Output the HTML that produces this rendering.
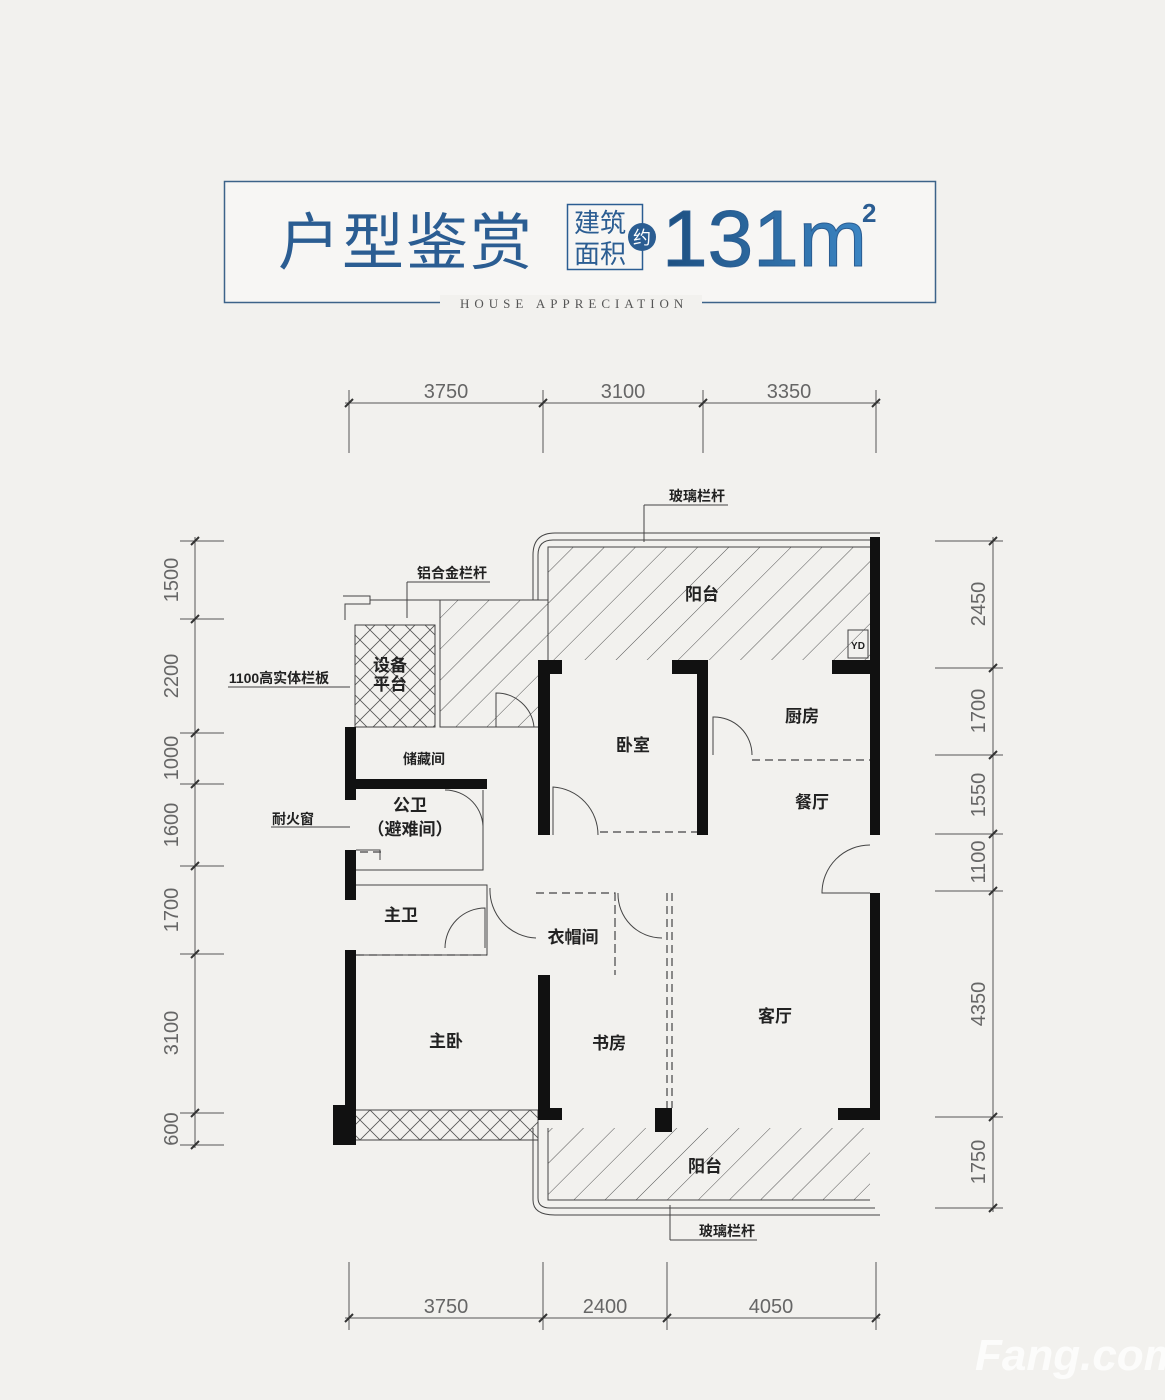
<!DOCTYPE html>
<html><head><meta charset="utf-8"><style>
html,body{margin:0;padding:0;}
body{width:1165px;height:1400px;background:#f2f1ee;overflow:hidden;}
svg{display:block}
.t{font-family:"Liberation Sans","Noto Sans CJK SC",sans-serif;fill:#222;font-weight:bold}
.d{font-family:"Liberation Sans",sans-serif;fill:#666;font-size:20px}
</style></head><body>
<svg width="1165" height="1400" viewBox="0 0 1165 1400" xmlns="http://www.w3.org/2000/svg">
<defs>
<pattern id="h" patternUnits="userSpaceOnUse" width="22" height="22" patternTransform="rotate(45)">
<line x1="0" y1="0" x2="0" y2="22" stroke="#555" stroke-width="1"/></pattern>
<pattern id="x" patternUnits="userSpaceOnUse" width="20" height="20">
<path d="M0 0L20 20M20 0L0 20" stroke="#555" stroke-width="0.8"/></pattern>
<linearGradient id="g" x1="0" x2="1"><stop offset="0" stop-color="#1d4f80"/><stop offset="1" stop-color="#3c86c4"/></linearGradient>
</defs>
<rect width="1165" height="1400" fill="#f2f1ee"/>
<!-- header -->
<rect x="224.5" y="181.5" width="711" height="121" fill="#f7f6f4" stroke="#3d6389" stroke-width="1.5"/>
<rect x="440" y="295" width="262" height="16" fill="#f2f1ee"/>
<text x="460" y="308" font-family="Liberation Serif,serif" font-size="13" letter-spacing="5" fill="#555">HOUSE APPRECIATION</text>
<text x="278" y="264" font-family="Liberation Sans,'Noto Sans CJK SC',sans-serif" font-size="62" fill="#2b5d92" letter-spacing="2">户型鉴赏</text>
<rect x="567.5" y="204.5" width="75" height="65" fill="none" stroke="#2b5d92" stroke-width="1.5"/>
<text x="574" y="232" font-family="Liberation Sans,'Noto Sans CJK SC',sans-serif" font-size="26" fill="#2b5d92">建筑</text>
<text x="574" y="263" font-family="Liberation Sans,'Noto Sans CJK SC',sans-serif" font-size="26" fill="#2b5d92">面积</text>
<circle cx="642" cy="237" r="14" fill="#2b5d92"/>
<text x="642" y="244" text-anchor="middle" font-family="'Noto Sans CJK SC',sans-serif" font-size="18" fill="#fff">约</text>
<text x="662" y="266" font-family="Liberation Sans,sans-serif" font-size="80" fill="url(#g)" textLength="205" lengthAdjust="spacingAndGlyphs" stroke="#2b5d92" stroke-width="1">131m</text>
<text x="862" y="222" font-family="Liberation Sans,sans-serif" font-size="26" font-weight="bold" fill="#2b5d92">2</text>

<!-- dims -->
<g stroke="#555" stroke-width="1" fill="none">
<line x1="345" y1="403" x2="880" y2="403"/>
<line x1="349" y1="390" x2="349" y2="453"/><line x1="543" y1="390" x2="543" y2="453"/><line x1="703" y1="390" x2="703" y2="453"/><line x1="876" y1="390" x2="876" y2="453"/>
<line x1="345" y1="1318" x2="880" y2="1318"/>
<line x1="349" y1="1262" x2="349" y2="1330"/><line x1="543" y1="1262" x2="543" y2="1330"/><line x1="667" y1="1262" x2="667" y2="1330"/><line x1="876" y1="1262" x2="876" y2="1330"/>
<line x1="195" y1="537" x2="195" y2="1148"/>
<line x1="180" y1="541" x2="224" y2="541"/><line x1="180" y1="619" x2="224" y2="619"/><line x1="180" y1="733" x2="224" y2="733"/><line x1="180" y1="784" x2="224" y2="784"/><line x1="180" y1="866" x2="224" y2="866"/><line x1="180" y1="954" x2="224" y2="954"/><line x1="180" y1="1113" x2="224" y2="1113"/><line x1="180" y1="1145" x2="224" y2="1145"/>
<line x1="993" y1="537" x2="993" y2="1212"/>
<line x1="935" y1="541" x2="1003" y2="541"/><line x1="935" y1="668" x2="1003" y2="668"/><line x1="935" y1="755" x2="1003" y2="755"/><line x1="935" y1="834" x2="1003" y2="834"/><line x1="935" y1="891" x2="1003" y2="891"/><line x1="935" y1="1117" x2="1003" y2="1117"/><line x1="935" y1="1208" x2="1003" y2="1208"/>
</g>
<g stroke="#333" stroke-width="2">
<path d="M345 407l8-8M539 407l8-8M699 407l8-8M872 407l8-8M345 1322l8-8M539 1322l8-8M663 1322l8-8M872 1322l8-8"/>
<path d="M191 545l8-8M191 623l8-8M191 737l8-8M191 788l8-8M191 870l8-8M191 958l8-8M191 1117l8-8M191 1149l8-8"/>
<path d="M989 545l8-8M989 672l8-8M989 759l8-8M989 838l8-8M989 895l8-8M989 1121l8-8M989 1212l8-8"/>
</g>
<g class="d" text-anchor="middle">
<text x="446" y="398">3750</text><text x="623" y="398">3100</text><text x="789" y="398">3350</text>
<text x="446" y="1313">3750</text><text x="605" y="1313">2400</text><text x="771" y="1313">4050</text>
<text transform="translate(178 580) rotate(-90)">1500</text>
<text transform="translate(178 676) rotate(-90)">2200</text>
<text transform="translate(178 758) rotate(-90)">1000</text>
<text transform="translate(178 825) rotate(-90)">1600</text>
<text transform="translate(178 910) rotate(-90)">1700</text>
<text transform="translate(178 1033) rotate(-90)">3100</text>
<text transform="translate(178 1129) rotate(-90)">600</text>
<text transform="translate(985 604) rotate(-90)">2450</text>
<text transform="translate(985 711) rotate(-90)">1700</text>
<text transform="translate(985 795) rotate(-90)">1550</text>
<text transform="translate(985 862) rotate(-90)">1100</text>
<text transform="translate(985 1004) rotate(-90)">4350</text>
<text transform="translate(985 1162) rotate(-90)">1750</text>
</g>

<!-- plan fills -->
<path d="M548 547H870V660H548V727H440V600H548Z" fill="url(#h)"/>
<rect x="355" y="625" width="80" height="102" fill="url(#x)"/>
<rect x="356" y="1110" width="182" height="30" fill="url(#x)"/>
<rect x="548" y="1128" width="322" height="72" fill="url(#h)"/>
<g fill="none" stroke="#444" stroke-width="1">
<path d="M548 727V600H370M548 600V547H870"/>
<path d="M533 600V555Q533 533 555 533H880M538 600V555Q538 540 553 540H875"/>
<path d="M345 620V604H370V596H343"/>
<rect x="355" y="625" width="80" height="102"/><rect x="440" y="600" width="108" height="127"/>
<path d="M548 1128V1200H870M533 1128V1200Q533 1215 555 1215H880M538 1128V1198Q538 1208 550 1208H875"/>
<path d="M356 1110H538V1140H356"/>
<rect x="848" y="630" width="20" height="28"/>
<path d="M496 727V693A38 38 0 0 1 534 727"/>
<path d="M553 835V787A48 48 0 0 1 598 835"/>
<path d="M713 755V717A38 38 0 0 1 752 755"/>
<path d="M870 893H822A48 48 0 0 1 870 845"/>
<path d="M445 790A38 38 0 0 1 483 830V790"/>
<path d="M445 948A40 40 0 0 1 485 908V948"/>
<path d="M490 888A48 48 0 0 0 536 938"/>
<path d="M618 893A44 44 0 0 0 662 938"/>
<path d="M356 885H487V955H356M483 790V870H356M356 850H380V860"/>
</g>
<g fill="none" stroke="#444" stroke-width="1.2" stroke-dasharray="8 5">
<path d="M752 760H870"/><path d="M600 832H697"/><path d="M356 955H487"/>
<path d="M536 893H615V975M615 893V975"/><path d="M667 893V1108M672 893V1108"/><path d="M360 852H385"/>
</g>
<g fill="#111">
<rect x="870" y="537" width="10" height="298"/><rect x="870" y="893" width="10" height="225"/>
<rect x="345" y="727" width="11" height="73"/><rect x="345" y="850" width="11" height="50"/><rect x="345" y="950" width="11" height="160"/>
<rect x="538" y="660" width="12" height="175"/><rect x="697" y="660" width="11" height="175"/>
<rect x="538" y="660" width="24" height="14"/><rect x="672" y="660" width="36" height="14"/><rect x="832" y="660" width="48" height="14"/>
<rect x="345" y="779" width="142" height="10"/>
<rect x="538" y="975" width="12" height="143"/>
<rect x="538" y="1108" width="24" height="12"/><rect x="655" y="1108" width="17" height="24"/><rect x="838" y="1108" width="42" height="12"/>
<rect x="333" y="1105" width="23" height="40"/>
</g>
<g class="t" font-size="17" text-anchor="middle">
<text x="702" y="600">阳台</text><text x="633" y="751">卧室</text><text x="802" y="722">厨房</text><text x="812" y="808">餐厅</text>
<text x="424" y="764" font-size="14">储藏间</text><text x="410" y="811">公卫</text><text x="410" y="835">（避难间）</text>
<text x="401" y="921">主卫</text><text x="573" y="943">衣帽间</text><text x="446" y="1047">主卧</text><text x="609" y="1049">书房</text>
<text x="775" y="1022">客厅</text><text x="705" y="1172">阳台</text>
<text x="390" y="671">设备</text><text x="390" y="690">平台</text>
<text x="697" y="501" font-size="14">玻璃栏杆</text><text x="727" y="1236" font-size="14">玻璃栏杆</text>
<text x="452" y="578" font-size="14">铝合金栏杆</text><text x="279" y="683" font-size="14">1100高实体栏板</text>
<text x="293" y="824" font-size="14">耐火窗</text><text x="858" y="649" font-size="10">YD</text>
</g>
<g stroke="#444" stroke-width="1" fill="none">
<path d="M644 505H728M644 505V542"/><path d="M670 1240H757M670 1240V1205"/><path d="M407 582H490M407 582V618"/>
<path d="M228 687H350"/><path d="M271 827H350"/>
</g>
<text x="975" y="1370" font-family="Liberation Sans,sans-serif" font-size="44" font-style="italic" font-weight="bold" fill="#ffffff" opacity="0.8">Fang.com</text>
</svg>
</body></html>
